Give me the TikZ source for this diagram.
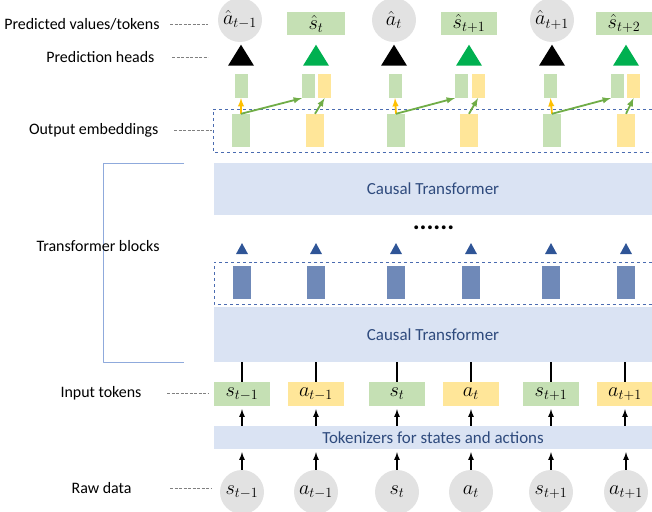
\documentclass[tikz,border=0pt]{standalone}
\usepackage{fontspec}
\setmainfont{Carlito}
\usetikzlibrary{shapes.geometric}
\definecolor{barblue}{HTML}{DAE3F3}
\definecolor{bartext}{HTML}{2E4A7D}
\definecolor{tokgreen}{HTML}{C5E0B4}
\definecolor{tokyellow}{HTML}{FFE699}
\definecolor{rawgray}{HTML}{E2E2E2}
\definecolor{embblue}{HTML}{6F89B8}
\definecolor{triblue}{HTML}{2F5597}
\definecolor{headgreen}{HTML}{00B050}
\definecolor{arrowgreen}{HTML}{70AD47}
\definecolor{arroworange}{HTML}{FFC000}
\definecolor{dashblue}{HTML}{4A6BB0}
\definecolor{bracketblue}{HTML}{8FAADC}
\newcommand{\tokmath}[1]{\scalebox{1.18}{$#1$}}
\tikzset{
  rawnode/.style={circle,fill=rawgray,minimum size=44bp,inner sep=0pt,font=\fontsize{17}{20}\selectfont},
  tokbox/.style={rectangle,minimum width=56bp,minimum height=24bp,inner sep=0pt,font=\fontsize{17}{20}\selectfont},
  barbox/.style={rectangle,fill=barblue,minimum width=438bp,inner sep=0pt,text=bartext,font=\fontsize{17}{20}\selectfont},
  embbox/.style={rectangle,minimum width=18bp,minimum height=33bp,inner sep=0pt},
  smallbox/.style={rectangle,minimum width=13bp,minimum height=24bp,inner sep=0pt},
  headtri/.style={isosceles triangle,isosceles triangle stretches,shape border rotate=90,minimum width=26bp,minimum height=21bp,inner sep=0pt},
  blocktri/.style={isosceles triangle,isosceles triangle stretches,shape border rotate=90,minimum width=12bp,minimum height=11bp,inner sep=0pt,fill=triblue},
  sidelabel/.style={anchor=east,font=\fontsize{16}{18}\selectfont},
  guide/.style={gray,dash pattern=on 3bp off 1.5bp,line width=0.6bp},
  feed/.style={black,->,line width=1.6bp,shorten >=3bp},
  skip/.style={->,line width=1.8bp},
}
\begin{document}
\begin{tikzpicture}[>=latex,line join=bevel,]
\useasboundingbox (0bp,0bp) rectangle (652bp,512bp);
%% raw data
\node (raw_0) at (242.0bp,20.0bp) [rawnode] {\tokmath{s_{t-1}}};
  \node (raw_1) at (316.0bp,20.0bp) [rawnode] {\tokmath{a_{t-1}}};
  \node (raw_2) at (397.0bp,20.0bp) [rawnode] {\tokmath{s_{t}}};
  \node (raw_3) at (471.0bp,20.0bp) [rawnode] {\tokmath{a_{t}}};
  \node (raw_4) at (551.0bp,20.0bp) [rawnode] {\tokmath{s_{t+1}}};
  \node (raw_5) at (626.0bp,20.0bp) [rawnode] {\tokmath{a_{t+1}}};
%% tokenizer and input tokens
\node (tokenizer) at (433.0bp,74.5bp) [barbox,minimum height=23bp] {Tokenizers for states and actions};
  \node (tok_0) at (242.0bp,118.0bp) [tokbox,fill=tokgreen] {\tokmath{s_{t-1}}};
  \node (tok_1) at (316.0bp,118.0bp) [tokbox,fill=tokyellow] {\tokmath{a_{t-1}}};
  \node (tok_2) at (397.0bp,118.0bp) [tokbox,fill=tokgreen] {\tokmath{s_{t}}};
  \node (tok_3) at (471.0bp,118.0bp) [tokbox,fill=tokyellow] {\tokmath{a_{t}}};
  \node (tok_4) at (551.0bp,118.0bp) [tokbox,fill=tokgreen] {\tokmath{s_{t+1}}};
  \node (tok_5) at (625.0bp,118.0bp) [tokbox,fill=tokyellow] {\tokmath{a_{t+1}}};
  \draw [feed] (raw_0) -- (raw_0 |- tokenizer.south);
  \draw [feed] (raw_1) -- (raw_1 |- tokenizer.south);
  \draw [feed] (raw_2) -- (raw_2 |- tokenizer.south);
  \draw [feed] (raw_3) -- (raw_3 |- tokenizer.south);
  \draw [feed] (raw_4) -- (raw_4 |- tokenizer.south);
  \draw [feed] (raw_5) -- (raw_5 |- tokenizer.south);
  \draw [feed] (tok_0 |- tokenizer.north) -- (tok_0);
  \draw [feed] (tok_1 |- tokenizer.north) -- (tok_1);
  \draw [feed] (tok_2 |- tokenizer.north) -- (tok_2);
  \draw [feed] (tok_3 |- tokenizer.north) -- (tok_3);
  \draw [feed] (tok_4 |- tokenizer.north) -- (tok_4);
  \draw [feed] (tok_5 |- tokenizer.north) -- (tok_5);
%% transformer blocks
\node (causal_0) at (433.0bp,177.5bp) [barbox,minimum height=55bp] {Causal Transformer};
  \draw [black,line width=2.8bp] (tok_0) -- (tok_0 |- causal_0.south);
  \draw [black,line width=2.8bp] (tok_1) -- (tok_1 |- causal_0.south);
  \draw [black,line width=2.8bp] (tok_2) -- (tok_2 |- causal_0.south);
  \draw [black,line width=2.8bp] (tok_3) -- (tok_3 |- causal_0.south);
  \draw [black,line width=2.8bp] (tok_4) -- (tok_4 |- causal_0.south);
  \draw [black,line width=2.8bp] (tok_5) -- (tok_5 |- causal_0.south);
  \draw [dashblue,dashed,line width=0.8bp] (652bp,250.0bp) -- (214.0bp,250.0bp) -- (214.0bp,208.0bp) -- (652bp,208.0bp);
  \node (hid_0) at (242.0bp,229.5bp) [embbox,fill=embblue] {};
  \node (hid_1) at (316.0bp,229.5bp) [embbox,fill=embblue] {};
  \node (hid_2) at (396.0bp,229.5bp) [embbox,fill=embblue] {};
  \node (hid_3) at (471.0bp,229.5bp) [embbox,fill=embblue] {};
  \node (hid_4) at (551.0bp,229.5bp) [embbox,fill=embblue] {};
  \node (hid_5) at (626.0bp,229.5bp) [embbox,fill=embblue] {};
  \node (up_0) at (242.0bp,261.5bp) [blocktri] {};
  \node (up_1) at (316.0bp,261.5bp) [blocktri] {};
  \node (up_2) at (396.0bp,261.5bp) [blocktri] {};
  \node (up_3) at (471.0bp,261.5bp) [blocktri] {};
  \node (up_4) at (551.0bp,261.5bp) [blocktri] {};
  \node (up_5) at (626.0bp,261.5bp) [blocktri] {};
  \node (dots) at (433.5bp,284.0bp) [font=\fontsize{26}{28}\selectfont\bfseries] {......};
  \node (causal_1) at (433.0bp,323.0bp) [barbox,minimum height=52bp] {Causal Transformer};
  \draw [bracketblue,line width=0.8bp] (184.0bp,349.0bp) -- (103.0bp,349.0bp) -- (103.0bp,150.0bp) -- (184.0bp,150.0bp);
%% output embeddings
\draw [dashblue,dashed,line width=0.8bp] (652bp,403.0bp) -- (213.0bp,403.0bp) -- (213.0bp,360.0bp) -- (652bp,360.0bp);
  \node (emb_0) at (241.0bp,381.5bp) [embbox,fill=tokgreen] {};
  \node (emb_1) at (315.0bp,381.5bp) [embbox,fill=tokyellow] {};
  \node (emb_2) at (396.0bp,381.5bp) [embbox,fill=tokgreen] {};
  \node (emb_3) at (469.0bp,381.5bp) [embbox,fill=tokyellow] {};
  \node (emb_4) at (552.0bp,381.5bp) [embbox,fill=tokgreen] {};
  \node (emb_5) at (626.0bp,381.5bp) [embbox,fill=tokyellow] {};
  \node (out_0) at (241.0bp,426.0bp) [smallbox,fill=tokgreen] {};
  \node (out_1g) at (308.5bp,426.0bp) [smallbox,fill=tokgreen] {};
  \node (out_1y) at (324.5bp,426.0bp) [smallbox,fill=tokyellow] {};
  \node (out_2) at (395.0bp,426.0bp) [smallbox,fill=tokgreen] {};
  \node (out_3g) at (461.5bp,426.0bp) [smallbox,fill=tokgreen] {};
  \node (out_3y) at (478.0bp,426.0bp) [smallbox,fill=tokyellow] {};
  \node (out_4) at (550.5bp,426.0bp) [smallbox,fill=tokgreen] {};
  \node (out_5g) at (617.5bp,426.0bp) [smallbox,fill=tokgreen] {};
  \node (out_5y) at (633.5bp,426.0bp) [smallbox,fill=tokyellow] {};
  \draw [skip,arroworange] (emb_0.north) -- (out_0.south);
  \draw [skip,arroworange] (emb_2.north) -- (out_2.south);
  \draw [skip,arroworange] (emb_4.north) -- (out_4.south);
  \draw [skip,arrowgreen] (emb_0.north) -- (out_1g.south west);
  \draw [skip,arrowgreen] (emb_2.north) -- (out_3g.south west);
  \draw [skip,arrowgreen] (emb_4.north) -- (out_5g.south west);
  \draw [skip,arrowgreen] (emb_1.north) -- (out_1y.south);
  \draw [skip,arrowgreen] (emb_3.north) -- (out_3y.south);
  \draw [skip,arrowgreen] (emb_5.north) -- (out_5y.south);
%% prediction heads and predicted values
\node (head_0) at (241.0bp,453.5bp) [headtri,fill=black] {};
  \node (head_1) at (316.0bp,453.5bp) [headtri,fill=headgreen] {};
  \node (head_2) at (394.0bp,453.5bp) [headtri,fill=black] {};
  \node (head_3) at (469.0bp,453.5bp) [headtri,fill=headgreen] {};
  \node (head_4) at (552.0bp,453.5bp) [headtri,fill=black] {};
  \node (head_5) at (626.0bp,453.5bp) [headtri,fill=headgreen] {};
  \node (pred_0) at (240.0bp,492.0bp) [rawnode] {\tokmath{\hat{a}_{t-1}}};
  \node (pred_1) at (316.0bp,488.5bp) [tokbox,minimum width=58bp,minimum height=23bp,fill=tokgreen] {\tokmath{\hat{s}_{t}}};
  \node (pred_2) at (394.0bp,492.0bp) [rawnode] {\tokmath{\hat{a}_{t}}};
  \node (pred_3) at (469.0bp,488.5bp) [tokbox,minimum width=56bp,minimum height=23bp,fill=tokgreen] {\tokmath{\hat{s}_{t+1}}};
  \node (pred_4) at (552.0bp,492.0bp) [rawnode] {\tokmath{\hat{a}_{t+1}}};
  \node (pred_5) at (624.0bp,488.5bp) [tokbox,minimum width=56bp,minimum height=23bp,fill=tokgreen] {\tokmath{\hat{s}_{t+2}}};
%% side labels
\node (lbl_pred) at (163.0bp,488.0bp) [sidelabel] {Predicted values/tokens};
  \node (lbl_head) at (158.0bp,455.0bp) [sidelabel] {Prediction heads};
  \node (lbl_emb) at (162.0bp,382.0bp) [sidelabel] {Output embeddings};
  \node (lbl_block) at (163.0bp,266.0bp) [sidelabel] {Transformer blocks};
  \node (lbl_tok) at (145.0bp,119.0bp) [sidelabel] {Input tokens};
  \node (lbl_raw) at (135.0bp,24.0bp) [sidelabel] {Raw data};
  \draw [guide] ([xshift=7bp]lbl_pred.east) -- ([xshift=45bp]lbl_pred.east);
  \draw [guide] ([xshift=14bp]lbl_head.east) -- ([xshift=50bp]lbl_head.east);
  \draw [guide] ([xshift=12bp]lbl_emb.east) -- ([xshift=50bp]lbl_emb.east);
  \draw [guide] ([xshift=22bp]lbl_tok.east) -- ([xshift=64bp]lbl_tok.east);
  \draw [guide] ([xshift=35bp]lbl_raw.east) -- ([xshift=77bp]lbl_raw.east);
%
\end{tikzpicture}
\end{document}
